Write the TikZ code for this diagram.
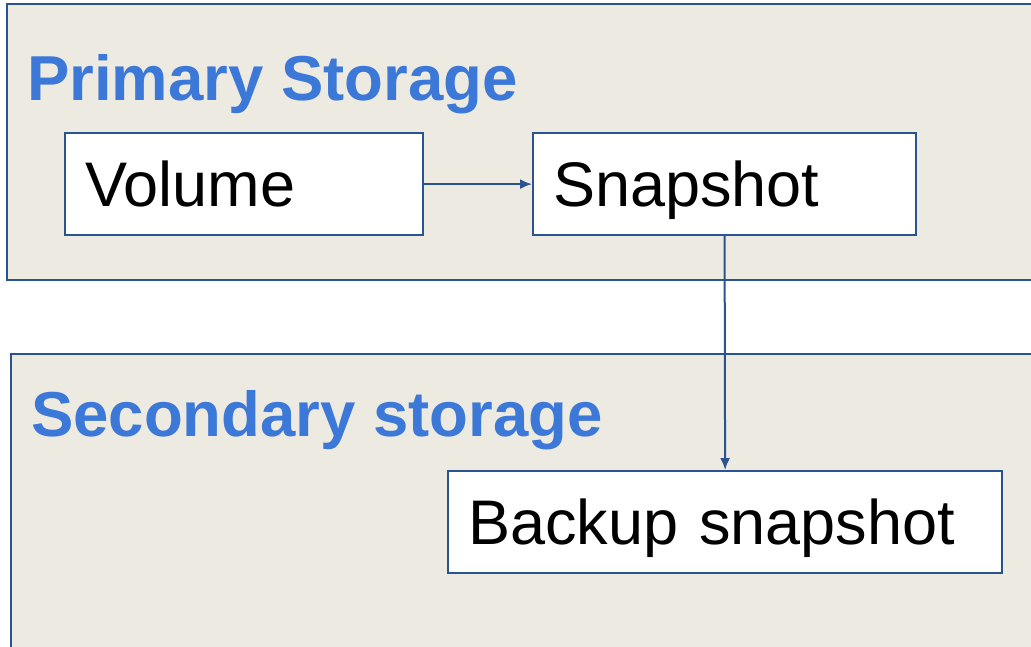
\documentclass[tikz,border=0pt]{standalone}
\usepackage{fontspec}
\setmainfont{Liberation Sans}
\usetikzlibrary{arrows.meta}
\definecolor{panelfill}{HTML}{EDEAE1}
\definecolor{edgeblue}{HTML}{2A5490}
\definecolor{titleblue}{HTML}{3C78D8}
\begin{document}
\begin{tikzpicture}[x=1pt,y=-1pt,
  panel/.style={draw=edgeblue, fill=panelfill, line width=2.4pt},
  itembox/.style={draw=edgeblue, fill=white, line width=2.2pt, anchor=north west,
    minimum height=102pt, inner xsep=20pt, inner ysep=0pt, align=left,
    text height=45pt, text depth=0pt, font=\fontsize{63}{70}\selectfont},
  paneltitle/.style={anchor=base west, inner sep=0pt, text=titleblue,
    font=\fontsize{63.5}{70}\selectfont\bfseries},
  conn/.style={draw=edgeblue, line width=2pt, -{Latex[length=12pt,width=10pt]}}]
\useasboundingbox (0,0) rectangle (1031,646);
\fill[white] (0,0) rectangle (1031,646);
\draw[panel] (7,4) rectangle (1045,280);
\draw[panel] (11,354) rectangle (1045,655);
\node[paneltitle] (t1) at (27,100) {Primary Storage};
\node[paneltitle] (t2) at (31,436) {Secondary storage};
\node[itembox, minimum width=358pt, text width=318pt] (vol) at (64,132) {Volume};
\node[itembox, minimum width=383pt, text width=343pt] (snap) at (532,132) {Snapshot};
\node[itembox, minimum width=554pt, text width=514pt] (bak) at (447,470) {Backup snapshot};
\draw[conn] (vol.east) -- (snap.west);
\draw[conn] (snap.south) -- (bak.north);
\end{tikzpicture}
\end{document}
